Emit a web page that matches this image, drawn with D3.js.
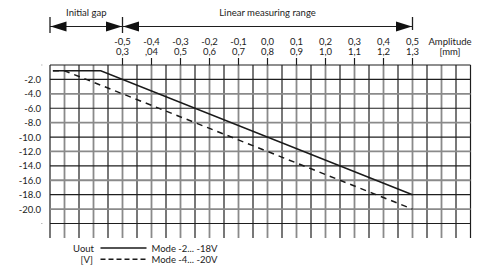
<!DOCTYPE html>
<html><head><meta charset="utf-8">
<script src="https://cdn.jsdelivr.net/npm/d3@7"></script>
<style>
html,body{margin:0;padding:0;background:#fff;}
svg{display:block;}
text{font-family:Lato,"Open Sans",sans-serif;fill:#222;}
</style></head>
<body>
<svg id="c" width="478" height="270"></svg>
<script>
// ---- data ----
const amplitudeTicks = [-0.5,-0.4,-0.3,-0.2,-0.1,0.0,0.1,0.2,0.3,0.4,0.5];
const amplitudeLabels = ["-0,5","-0,4","-0,3","-0,2","-0,1","0,0","0,1","0,2","0,3","0,4","0,5"];
const gapLabels = ["0,3",",04","0,5","0,6","0,7","0,8","0,9","1,0","1,1","1,2","1,3"];
const yTicks = [-2,-4,-6,-8,-10,-12,-14,-16,-18,-20];
const yLabels = ["-2.0","-4.0","-6.0","-8.0","-10.0","-12.0","-14.0","-16.0","-18.0","-20.0"];
const xDomain = [-0.75, 0.70];
const yDomain = [0, -22];
const solidAmp = [-0.74, -0.575, 0.5];
const solidU   = [-0.8, -0.8, -18];
const dashedAmp = [-0.74, -0.70, 0.5];
const dashedU   = [-0.8, -0.8, -20];
const rangeNames = ["Initial gap", "Linear measuring range"];
const rangeFrom = [-0.75, -0.5];
const rangeTo   = [-0.5, 0.5];
const legendNames = ["Mode -2... -18V", "Mode -4... -20V"];

// ---- layout ----
const svg = d3.select("#c");
const x = d3.scaleLinear().domain(xDomain).range([50, 470.5]);
const y = d3.scaleLinear().domain(yDomain).range([65, 223.5]);
const gridBottom = 238;
const fs = "9.5px";

// vertical grid lines every 0.05
const nV = Math.round((xDomain[1]-xDomain[0])/0.05);
const vLines = d3.range(nV+1).map(i => ({i, v: xDomain[0] + i*0.05}));
svg.append("g").selectAll("line").data(vLines).join("line")
  .attr("x1", d => x(d.v)).attr("x2", d => x(d.v))
  .attr("y1", y(0)).attr("y2", gridBottom)
  .attr("stroke", d => (d.i % 2 === 0 || d.i === nV) ? "#1e1e1e" : "#8a8a8a")
  .attr("stroke-width", d => (d.i % 2 === 0 || d.i === nV) ? 1.2 : 1.8);

// horizontal grid lines every 2
const nH = Math.round((yDomain[0]-yDomain[1])/2);
const hLines = d3.range(nH+1).map(k => ({k, v: -2*k}));
svg.append("g").selectAll("line").data(hLines).join("line")
  .attr("x1", x(xDomain[0])).attr("x2", x(xDomain[1]))
  .attr("y1", d => y(d.v)).attr("y2", d => y(d.v))
  .attr("stroke", d => (d.k % 2 === 1 || d.k === 0) ? "#1e1e1e" : "#8a8a8a")
  .attr("stroke-width", d => (d.k % 2 === 1 || d.k === 0) ? 1.2 : 1.8);

// top ticks
svg.append("g").selectAll("line").data(amplitudeTicks).join("line")
  .attr("x1", d => x(d)).attr("x2", d => x(d))
  .attr("y1", y(0) - 7).attr("y2", y(0))
  .attr("stroke", "#1e1e1e").attr("stroke-width", 1.2);

// top labels
svg.append("g").selectAll("text").data(amplitudeTicks).join("text")
  .attr("x", d => x(d)).attr("y", 45)
  .attr("text-anchor", "middle").style("font-size", fs)
  .text((d,i) => amplitudeLabels[i]);
svg.append("g").selectAll("text").data(amplitudeTicks).join("text")
  .attr("x", d => x(d)).attr("y", 55)
  .attr("text-anchor", "middle").style("font-size", fs)
  .text((d,i) => gapLabels[i]);
svg.append("text").attr("x", 450).attr("y", 45).attr("text-anchor","middle").style("font-size", fs).text("Amplitude");
svg.append("text").attr("x", 450).attr("y", 55).attr("text-anchor","middle").style("font-size", fs).text("[mm]");

// y labels
svg.append("g").selectAll("text").data(yTicks).join("text")
  .attr("x", 41).attr("y", d => y(d) + 3.5)
  .attr("text-anchor", "end").style("font-size", fs)
  .text((d,i) => yLabels[i]);
// small stub marks at unlabeled lines
svg.append("g").selectAll("line").data([0, -22]).join("line")
  .attr("x1", 41).attr("x2", 42.5).attr("y1", d => y(d)).attr("y2", d => y(d))
  .attr("stroke", "#bbb").attr("stroke-width", 1);

// range arrows
const arrowY = 26.5;
const head = (tipX, dir) => {
  const L = 16, H = 5;
  return `M${tipX},${arrowY} L${tipX - dir*L},${arrowY - H} L${tipX - dir*L},${arrowY + H} Z`;
};
const ra = svg.append("g");
rangeNames.forEach((name, i) => {
  const a = x(rangeFrom[i]), b = x(rangeTo[i]);
  ra.append("line").attr("x1", a).attr("x2", b).attr("y1", arrowY).attr("y2", arrowY)
    .attr("stroke", "#1e1e1e").attr("stroke-width", 1.2);
  ra.append("path").attr("d", head(a + 0.5, -1)).attr("fill", "#111");
  ra.append("path").attr("d", head(b - 0.5, 1)).attr("fill", "#111");
  ra.append("text").attr("x", (a + b) / 2).attr("y", 16).attr("text-anchor","middle")
    .style("font-size", fs).text(name);
});
const bars = [rangeFrom[0], rangeTo[0], rangeTo[1]];
ra.selectAll("line.bar").data(bars).join("line").attr("class","bar")
  .attr("x1", d => x(d)).attr("x2", d => x(d))
  .attr("y1", 17).attr("y2", (d,i) => i === 2 ? 30 : 33)
  .attr("stroke", "#1e1e1e").attr("stroke-width", 1.3);

// series lines
const line = d3.line().x(d => x(d[0])).y(d => y(d[1]));
svg.append("path").datum(d3.zip(solidAmp, solidU)).attr("d", line)
  .attr("fill","none").attr("stroke","#1a1a1a").attr("stroke-width", 1.5);
svg.append("path").datum(d3.zip(dashedAmp, dashedU)).attr("d", line)
  .attr("fill","none").attr("stroke","#1a1a1a").attr("stroke-width", 1.5)
  .attr("stroke-dasharray", "6,5");

// legend
const lg = svg.append("g");
lg.append("text").attr("x", 94).attr("y", 251.5).attr("text-anchor","end").style("font-size", fs).text("Uout");
lg.append("text").attr("x", 93).attr("y", 262.5).attr("text-anchor","end").style("font-size", fs).text("[V]");
legendNames.forEach((name, i) => {
  const ly = 248 + i * 11.3;
  lg.append("line").attr("x1", 100.5).attr("x2", 146.5).attr("y1", ly).attr("y2", ly)
    .attr("stroke", "#1a1a1a").attr("stroke-width", 1.5)
    .attr("stroke-dasharray", i === 0 ? null : "5,3");
  lg.append("text").attr("x", 151.5).attr("y", ly + 3.5).style("font-size", fs).text(name);
});
</script>
</body></html>
